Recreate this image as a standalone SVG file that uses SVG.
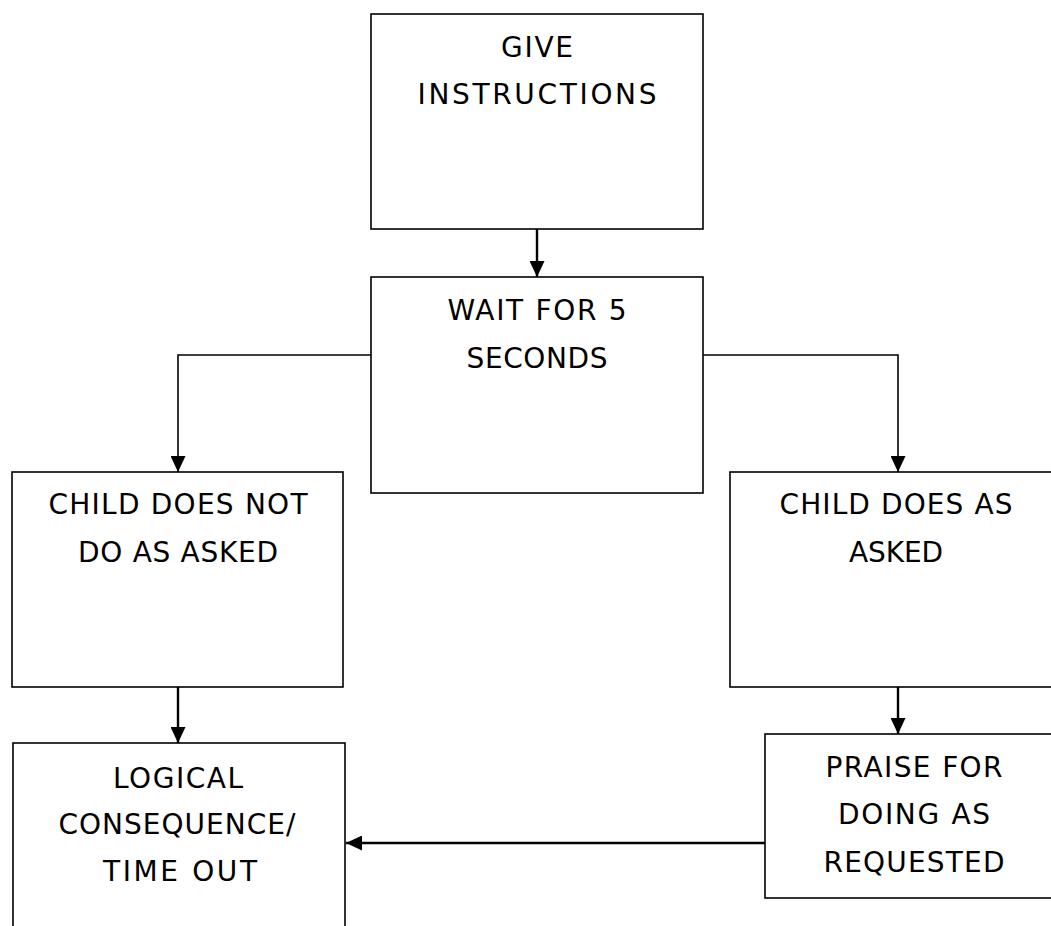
<svg xmlns="http://www.w3.org/2000/svg" width="1051" height="926" viewBox="0 0 1051 926">
<style>
.box{fill:#fff;stroke:#000;stroke-width:1.6}
.lbl{font-family:"DejaVu Sans","Liberation Sans",sans-serif;font-size:28px;fill:#000;text-anchor:middle}
.con{fill:none;stroke:#000;stroke-width:2.4}
.thin{stroke-width:1.6}
</style>
<defs>
<marker id="ah" markerUnits="userSpaceOnUse" markerWidth="16" markerHeight="15" refX="16" refY="7.5" orient="auto">
<path d="M0,0 L16,7.5 L0,15 Z" fill="#000"/>
</marker>
</defs>
<rect width="1051" height="926" fill="#fff"/>
<g id="connectors">
<path class="con" d="M537 229 V277" marker-end="url(#ah)"/>
<path class="con thin" d="M371 355 H178 V472" marker-end="url(#ah)"/>
<path class="con thin" d="M703 355 H898 V472" marker-end="url(#ah)"/>
<path class="con" d="M178 687 V743" marker-end="url(#ah)"/>
<path class="con" d="M898 687 V734" marker-end="url(#ah)"/>
<path class="con" d="M765 843 H346" marker-end="url(#ah)"/>
</g>
<g id="give-instructions">
<rect class="box" x="371" y="14" width="332" height="215"/>
<text class="lbl" x="537" y="57" textLength="72">GIVE</text>
<text class="lbl" x="537" y="104" textLength="239">INSTRUCTIONS</text>
</g>
<g id="wait">
<rect class="box" x="371" y="277" width="332" height="216"/>
<text class="lbl" x="537" y="320" textLength="179">WAIT FOR 5</text>
<text class="lbl" x="537" y="368" textLength="141">SECONDS</text>
</g>
<g id="child-does-not">
<rect class="box" x="12" y="472" width="331" height="215"/>
<text class="lbl" x="178" y="514" textLength="259">CHILD DOES NOT</text>
<text class="lbl" x="178" y="562" textLength="200">DO AS ASKED</text>
</g>
<g id="child-does">
<rect class="box" x="730" y="472" width="340" height="215"/>
<text class="lbl" x="896" y="514" textLength="233">CHILD DOES AS</text>
<text class="lbl" x="896" y="562" textLength="94">ASKED</text>
</g>
<g id="logical-consequence">
<rect class="box" x="13" y="743" width="332" height="220"/>
<text class="lbl" x="178" y="788" textLength="130">LOGICAL</text>
<text class="lbl" x="177" y="834" textLength="237">CONSEQUENCE/</text>
<text class="lbl" x="180" y="881" textLength="154">TIME OUT</text>
</g>
<g id="praise">
<rect class="box" x="765" y="734" width="300" height="164"/>
<text class="lbl" x="914" y="777" textLength="177">PRAISE FOR</text>
<text class="lbl" x="914" y="824" textLength="152">DOING AS</text>
<text class="lbl" x="914" y="872" textLength="181">REQUESTED</text>
</g>
</svg>
